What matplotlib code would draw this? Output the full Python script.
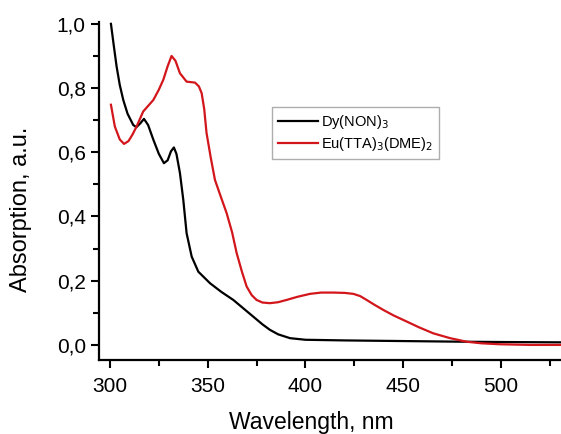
import matplotlib
matplotlib.use('Agg')
import matplotlib.pyplot as plt
from matplotlib.ticker import MultipleLocator, FuncFormatter

plt.rcParams['font.family'] = ['Liberation Sans', 'DejaVu Sans']

# Dy(NON)3
dyX = [300.5, 302, 303.4, 305, 306.8, 309, 311.9, 313.5, 315.5, 317.4, 319.5, 322.2, 325, 327.6,
       329.5, 331.2, 332.7, 334, 335.8, 337.5, 339.2, 341.8, 345.2, 351.2, 357, 363.1, 368,
       373.3, 378, 381.8, 386, 392.1, 400, 420, 450, 480, 500, 531]
dyY = [1.0, 0.93, 0.867, 0.81, 0.763, 0.72, 0.685, 0.678, 0.69, 0.704, 0.685, 0.639, 0.595, 0.566,
       0.575, 0.603, 0.615, 0.595, 0.535, 0.452, 0.348, 0.275, 0.228, 0.192, 0.165, 0.140, 0.115,
       0.088, 0.064, 0.047, 0.033, 0.021, 0.016, 0.014, 0.012, 0.010, 0.009, 0.008]

# Eu(TTA)3(DME)2
euX = [300.5, 302.5, 305, 307.2, 309.5, 311.5, 313.6, 317, 322.2, 325, 327.3, 329.5, 331.5, 333.5,
       335.8, 339.2, 343.5, 345.5, 346.9, 348.2, 349.4, 351.5, 353.7, 356.5, 359.7, 362.5, 364.8,
       367.5, 369.9, 372.5, 375, 378, 381.8, 386, 390.3, 396, 402.3, 408, 414.2, 420, 424.5,
       428, 431.3, 435, 439.8, 445, 451.7, 458, 465.4, 474, 482.4, 490, 499.5, 515, 531]
euY = [0.748, 0.68, 0.64, 0.626, 0.635, 0.655, 0.68, 0.727, 0.763, 0.795, 0.826, 0.868, 0.90, 0.885,
       0.846, 0.82, 0.817, 0.805, 0.784, 0.735, 0.66, 0.585, 0.514, 0.465, 0.41, 0.35, 0.286,
       0.228, 0.182, 0.155, 0.14, 0.132, 0.13, 0.133, 0.14, 0.15, 0.159, 0.163, 0.163, 0.162, 0.159,
       0.152, 0.14, 0.126, 0.109, 0.092, 0.073, 0.055, 0.036, 0.021, 0.010, 0.005, 0.002, 0.0, 0.0]

xTicks = [300, 350, 400, 450, 500]
yTicks = [0.0, 0.2, 0.4, 0.6, 0.8, 1.0]

fig = plt.figure(figsize=(5.61, 4.34), dpi=100)
ax = fig.add_axes([0.1765, 0.1705, 0.8235, 0.779])

ax.plot(dyX, dyY, color='black', lw=1.6, label='Dy(NON)$_3$')
ax.plot(euX, euY, color='#d2161b', lw=1.6, label='Eu(TTA)$_3$(DME)$_2$')

ax.set_xlim(294.4, 530.7)
ax.set_ylim(-0.047, 1.006)
ax.set_xticks(xTicks)
ax.set_yticks(yTicks)
ax.xaxis.set_minor_locator(MultipleLocator(25))
ax.yaxis.set_minor_locator(MultipleLocator(0.1))
ax.yaxis.set_major_formatter(FuncFormatter(lambda v, p: ('%.1f' % v).replace('.', ',')))

for s in ['top', 'right']:
    ax.spines[s].set_visible(False)
for s in ['left', 'bottom']:
    ax.spines[s].set_linewidth(1.6)

ax.tick_params(axis='both', which='major', direction='out', length=6, width=1.5, labelsize=15)
ax.tick_params(axis='x', which='major', pad=6)
ax.tick_params(axis='both', which='minor', direction='out', length=4, width=1.5)

ax.set_xlabel('Wavelength, nm', fontsize=16.5)
ax.xaxis.set_label_coords(0.46, -0.15)
ax.set_ylabel('Absorption, a.u.', fontsize=17)
ax.yaxis.set_label_coords(-0.145, 0.447)

leg = ax.legend(loc='upper left', bbox_to_anchor=(0.374, 0.749), fontsize=10.5, frameon=True,
                fancybox=False, edgecolor='#999999', handlelength=2.8, handletextpad=0.2,
                borderpad=0.4, labelspacing=0.3, borderaxespad=0)
leg.get_frame().set_linewidth(1.0)

plt.savefig('out.png', dpi=100)
